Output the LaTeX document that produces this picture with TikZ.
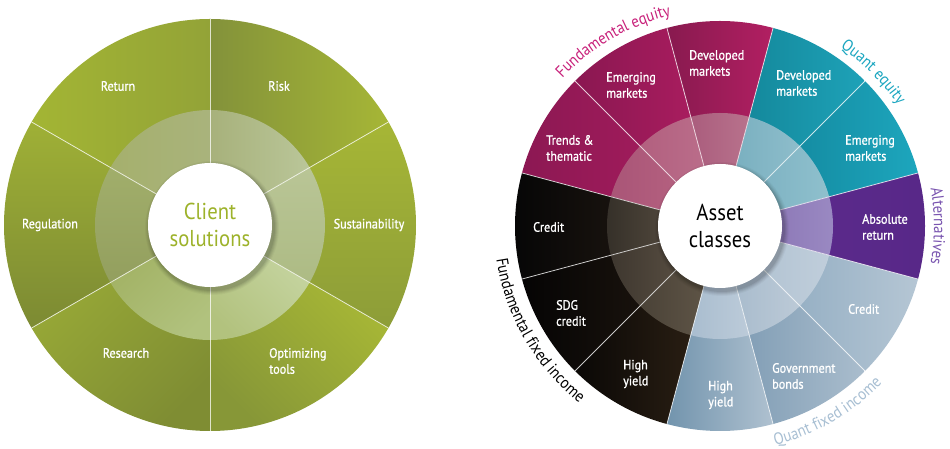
\documentclass[tikz,border=0pt]{standalone}
\usepackage{fontspec}
\setmainfont{PT Sans}[FakeStretch=0.9]
\newfontfamily\labfont{PT Sans}[FakeStretch=0.9, FakeBold=1.1]
\usetikzlibrary{decorations.text}
\newcommand\ringseg[6]{\path[#6] ([shift={(#2:#4)}]#1) arc[start angle=#2,end angle=#3,radius=#4] -- ([shift={(#3:#5)}]#1) arc[start angle=#3,end angle=#2,radius=#5] -- cycle;}
\newcommand\curvefont{\fontsize{16.5}{18}\selectfont}
\newcommand\hc[2]{\definecolor{#1}{HTML}{#2}}
\hc{clientgreen}{9DB22A}
\hc{fecol}{C8207A}
\hc{qecol}{1AA6C0}
\hc{altcol}{7A55B0}
\hc{qficol}{A8BFD3}
% left outer
\hc{la1}{83923A}\hc{lb1}{A6B636}
\hc{la2}{A3B534}\hc{lb2}{93A337}
\hc{la3}{9FB036}\hc{lb3}{7C8A33}
\hc{la4}{98A937}\hc{lb4}{7F8D33}
\hc{la5}{A9B936}\hc{lb5}{879737}
\hc{la6}{A6B636}\hc{lb6}{8D9D38}
% left inner
\hc{li1}{A7B17B}\hc{lj1}{BAC699}
\hc{li2}{A5B06D}\hc{lj2}{A9B37C}
\hc{li3}{A1AE6B}\hc{lj3}{939F5E}
\hc{li4}{A3B366}\hc{lj4}{B1C27E}
\hc{li5}{C4D39E}\hc{lj5}{B2C27E}
\hc{li6}{B9C596}\hc{lj6}{ADBB84}
% right outer
\hc{ra1}{12859B}\hc{rb1}{1DA6BD}
\hc{ra2}{138699}\hc{rb2}{1EA2B8}
\hc{ra3}{881A4F}\hc{rb3}{B21F62}
\hc{ra4}{8A1751}\hc{rb4}{AC1D60}
\hc{ra5}{8C1853}\hc{rb5}{A51C5D}
\hc{ra6}{060606}\hc{rb6}{201812}
\hc{ra7}{050404}\hc{rb7}{1E160F}
\hc{ra8}{0A0806}\hc{rb8}{2C2014}
\hc{ra9}{7294AD}\hc{rb9}{AFC1D0}
\hc{ra10}{7F9CB4}\hc{rb10}{AABDCD}
\hc{ra11}{8EAAC0}\hc{rb11}{B5C6D4}
\hc{ra12}{5B2A8C}\hc{rb12}{582888}
% right inner
\hc{ri1}{7FB3C3}\hc{rj1}{8FC0CD}
\hc{ri2}{7AB0C0}\hc{rj2}{8EBDCB}
\hc{ri3}{AA5D7D}\hc{rj3}{B8728C}
\hc{ri4}{B2607F}\hc{rj4}{BA6D8A}
\hc{ri5}{A95577}\hc{rj5}{B4607F}
\hc{ri6}{353029}\hc{rj6}{4E453A}
\hc{ri7}{3E372F}\hc{rj7}{564C40}
\hc{ri8}{4A4237}\hc{rj8}{5E5446}
\hc{ri9}{A9BDCF}\hc{rj9}{BCCBD9}
\hc{ri10}{A9BCCD}\hc{rj10}{BCCAD7}
\hc{ri11}{B3C4D3}\hc{rj11}{C0CEDB}
\hc{ri12}{8E7AB8}\hc{rj12}{9A89C2}
\begin{document}
\begin{tikzpicture}[x=1pt,y=1pt,
  lab/.style={text=white, font=\labfont\fontsize{13.5}{16}\selectfont, align=left, inner sep=0pt},
  divider/.style={draw=white, opacity=0.75, line width=0.8pt},
  centre/.style={circle, fill=white, minimum size=124pt, inner sep=0pt, align=center, font=\fontsize{23}{27}\selectfont}]
\useasboundingbox (0,0) rectangle (950,449);
\fill[white] (0,0) rectangle (950,449);
\coordinate (L) at (210,224);
\coordinate (R) at (720,223);
% ---------- left wheel outer
\ringseg{L}{30}{90}{60}{206}{left color=la1, right color=lb1}
\ringseg{L}{90}{150}{60}{206}{left color=la2, right color=lb2}
\ringseg{L}{150}{210}{60}{206}{top color=la3, bottom color=lb3}
\ringseg{L}{210}{270}{60}{206}{top color=la4, bottom color=lb4, shading angle=45}
\ringseg{L}{270}{330}{60}{206}{top color=la5, bottom color=lb5, shading angle=-45}
\ringseg{L}{-30}{30}{60}{206}{top color=la6, bottom color=lb6}
% left wheel inner
\ringseg{L}{30}{90}{60}{115}{left color=li1, right color=lj1}
\ringseg{L}{90}{150}{60}{115}{left color=li2, right color=lj2}
\ringseg{L}{150}{210}{60}{115}{top color=li3, bottom color=lj3}
\ringseg{L}{210}{270}{60}{115}{top color=li4, bottom color=lj4, shading angle=45}
\ringseg{L}{270}{330}{60}{115}{top color=li5, bottom color=lj5, shading angle=-45}
\ringseg{L}{-30}{30}{60}{115}{top color=li6, bottom color=lj6}
\foreach \a in {30,90,150,210,270,330} \draw[divider] ([shift={(\a:62)}]L) -- ([shift={(\a:206)}]L);
% ---------- right wheel
\foreach \i in {1,...,12}{
  \pgfmathsetmacro\aa{-15+30*\i}
  \pgfmathsetmacro\bb{15+30*\i}
  \ringseg{R}{\aa}{\bb}{60}{205}{left color=ra\i, right color=rb\i}
  \ringseg{R}{\aa}{\bb}{60}{113}{left color=ri\i, right color=rj\i}
}
\foreach \a in {15,45,...,345} \draw[divider] ([shift={(\a:62)}]R) -- ([shift={(\a:205)}]R);
% ---------- centre circles with soft shadow
\foreach \r/\o in {67/0.03,66/0.04,65/0.05,64/0.06,63/0.07}{
  \fill[black,opacity=\o] ([shift={(2,-3)}]L) circle[radius=\r];
  \fill[black,opacity=\o] ([shift={(2,-3)}]R) circle[radius=\r];}
\node[centre, text=clientgreen] (lc) at (L) {Client\\solutions};
\node[centre, text=black] (rc) at (R) {Asset\\classes};
% ---------- left labels
\node[lab] (ret) at (118,363) {Return};
\node[lab] (risk) at (279,363) {Risk};
\node[lab] (reg) at (50,224) {Regulation};
\node[lab] (sus) at (369,224) {Sustainability};
\node[lab] (res) at (126,96) {Research};
\node[lab, anchor=west] (opt) at (269,88) {Optimizing\\tools};
% ---------- right labels
\node[lab, anchor=west] (dmf) at (689,386) {Developed\\markets};
\node[lab, anchor=west] (emf) at (606,364) {Emerging\\markets};
\node[lab, anchor=west] (tr) at (546,301) {Trends \&\\thematic};
\node[lab, anchor=west] (dmq) at (776,366) {Developed\\markets};
\node[lab, anchor=west] (emq) at (845,301) {Emerging\\markets};
\node[lab, anchor=west] (abs) at (862,222) {Absolute\\return};
\node[lab, anchor=west] (crb) at (533,222) {Credit};
\node[lab, anchor=west] (sdg) at (556,136) {SDG\\credit};
\node[lab, anchor=west] (hyb) at (623,75) {High\\yield};
\node[lab, anchor=west] (hyq) at (708,54) {High\\yield};
\node[lab, anchor=west] (gov) at (772,73) {Government\\bonds};
\node[lab, anchor=west] (crq) at (848,140) {Credit};
% ---------- curved group titles
\path[decorate,decoration={text along path, text align=center, text={|\curvefont\color{fecol}|Fundamental equity}}] ([shift={(165:216)}]R) arc[start angle=165,end angle=75,radius=216];
\path[decorate,decoration={text along path, text align=center, text={|\curvefont\color{qecol}|Quant equity}}] ([shift={(75:215)}]R) arc[start angle=75,end angle=15,radius=215];
\path[decorate,decoration={text along path, text align=center, text={|\curvefont\color{altcol}|Alternatives}}] ([shift={(40:214)}]R) arc[start angle=40,end angle=-40,radius=214];
\path[decorate,decoration={text along path, text align=center, text={|\curvefont\color{qficol}|Quant fixed income}}] ([shift={(255:226)}]R) arc[start angle=255,end angle=345,radius=226];
\path[decorate,decoration={text along path, text align=center, text={|\curvefont\color{black}|Fundamental fixed income}}] ([shift={(165:226)}]R) arc[start angle=165,end angle=255,radius=226];
\end{tikzpicture}
\end{document}
